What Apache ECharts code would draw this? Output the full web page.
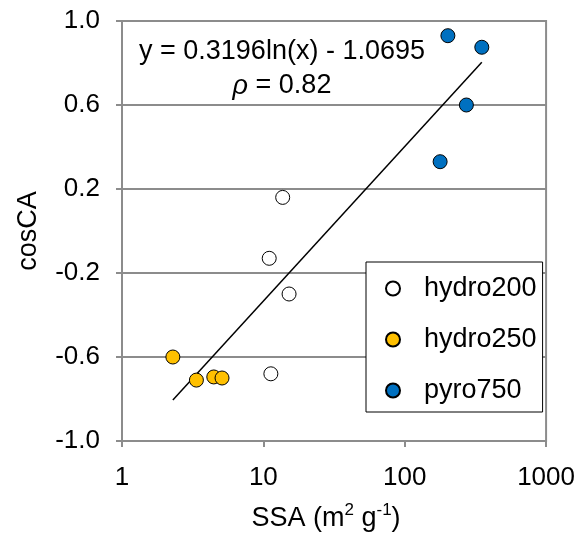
<!DOCTYPE html>
<html lang="en">
<head>
    <meta charset="UTF-8">
    <title>cosCA vs SSA</title>
    <style>
        * { margin: 0; padding: 0; }
        #chart { width: 578px; height: 543px; }
    </style>
</head>
<body>
    <div id="chart"></div>
    <script src="https://cdn.jsdelivr.net/npm/echarts@6/dist/echarts.min.js"></script>
    <script>
        // data: [SSA, cosCA]
        const hydro200 = [[13.7, 0.16], [11.0, -0.13], [15.2, -0.30], [11.3, -0.68]];
        const hydro250 = [[2.29, -0.60], [3.36, -0.71], [4.46, -0.695], [5.10, -0.70]];
        const pyro750 = [[202, 0.93], [351, 0.875], [273, 0.60], [178, 0.33]];
        // log fit y = a ln(x) + b, drawn over the data range
        const fitA = 0.3196;
        const fitB = -1.0695;
        const fitRange = [2.29, 351];
        const xTicks = [1, 10, 100, 1000];
        const yTicks = [-1.0, -0.6, -0.2, 0.2, 0.6, 1.0];

        const FONT = '"Liberation Sans", Arial, sans-serif';
        const GRAY = '#8c8c8c';
        const fitLine = fitRange.map(x => [x, fitA * Math.log(x) + fitB]);

        const chart = echarts.init(document.getElementById('chart'));
        const markerStyle = (color) => ({
            color: color,
            opacity: 1,
            borderColor: '#000',
            borderWidth: 1
        });

        chart.setOption({
            animation: false,
            backgroundColor: '#fff',
            textStyle: { fontFamily: FONT },
            title: {
                left: 277,
                top: 30,
                textAlign: 'center',
                text: 'y = ' + fitA + 'ln(x) - ' + Math.abs(fitB) + '\n{i|ρ} = 0.82',
                textStyle: {
                    fontFamily: FONT,
                    fontWeight: 'normal',
                    fontSize: 27,
                    lineHeight: 34,
                    color: '#000',
                    rich: {
                        i: { fontStyle: 'italic', fontSize: 27, fontFamily: FONT, color: '#000' }
                    }
                }
            },
            legend: {
                orient: 'vertical',
                left: 366,
                top: 262,
                padding: [13, 6, 8, 19],
                itemGap: 24,
                itemWidth: 14,
                itemHeight: 14,
                borderColor: '#000',
                borderWidth: 1,
                backgroundColor: '#fff',
                textStyle: {
                    fontFamily: FONT,
                    fontSize: 27,
                    lineHeight: 27,
                    color: '#000',
                    padding: [0, 0, 0, 19]
                },
                data: [
                    { name: 'hydro200', icon: 'circle' },
                    { name: 'hydro250', icon: 'circle' },
                    { name: 'pyro750', icon: 'circle' }
                ]
            },
            grid: {
                left: 122,
                right: 31,
                top: 21,
                bottom: 102,
                show: true,
                borderColor: GRAY,
                borderWidth: 2
            },
            xAxis: {
                type: 'log',
                logBase: 10,
                min: xTicks[0],
                max: xTicks[xTicks.length - 1],
                name: '{n|SSA (m}{s|2}{n| g}{s|-1}{n|)}',
                nameLocation: 'middle',
                nameGap: 61,
                nameTextStyle: {
                    padding: [0, 16, 0, 0],
                    rich: {
                        n: { fontSize: 27, fontFamily: FONT, color: '#000', lineHeight: 30, verticalAlign: 'bottom' },
                        s: { fontSize: 17, fontFamily: FONT, color: '#000', lineHeight: 30, verticalAlign: 'top' }
                    }
                },
                axisLine: { onZero: false, lineStyle: { color: GRAY, width: 2 } },
                axisTick: { show: true, length: 6, lineStyle: { color: GRAY, width: 2 } },
                minorTick: { show: false },
                axisLabel: {
                    fontSize: 26,
                    color: '#000',
                    margin: 24,
                    fontFamily: FONT,
                    formatter: v => String(v)
                },
                splitLine: { show: false }
            },
            yAxis: {
                type: 'value',
                min: yTicks[0],
                max: yTicks[yTicks.length - 1],
                interval: 0.4,
                name: 'cosCA',
                nameLocation: 'middle',
                nameGap: 80,
                nameRotate: 90,
                nameTextStyle: {
                    fontSize: 27,
                    color: '#000',
                    fontFamily: FONT
                },
                axisLine: { show: true, onZero: false, lineStyle: { color: GRAY, width: 2 } },
                axisTick: { show: true, length: 6, lineStyle: { color: GRAY, width: 2 } },
                axisLabel: {
                    fontSize: 26,
                    color: '#000',
                    margin: 22,
                    fontFamily: FONT,
                    formatter: v => v.toFixed(1)
                },
                splitLine: { show: true, lineStyle: { color: GRAY, width: 2 } }
            },
            series: [
                {
                    name: 'fit',
                    type: 'line',
                    data: fitLine,
                    showSymbol: false,
                    symbol: 'none',
                    lineStyle: { color: '#000', width: 1.5 },
                    silent: true,
                    z: 1
                },
                {
                    name: 'hydro200',
                    type: 'scatter',
                    symbolSize: 14,
                    itemStyle: markerStyle('#ffffff'),
                    data: hydro200,
                    z: 3
                },
                {
                    name: 'hydro250',
                    type: 'scatter',
                    symbolSize: 14,
                    itemStyle: markerStyle('#FFC000'),
                    data: hydro250,
                    z: 3
                },
                {
                    name: 'pyro750',
                    type: 'scatter',
                    symbolSize: 14,
                    itemStyle: markerStyle('#0070C0'),
                    data: pyro750,
                    z: 3
                }
            ]
        });
    </script>
</body>
</html>
